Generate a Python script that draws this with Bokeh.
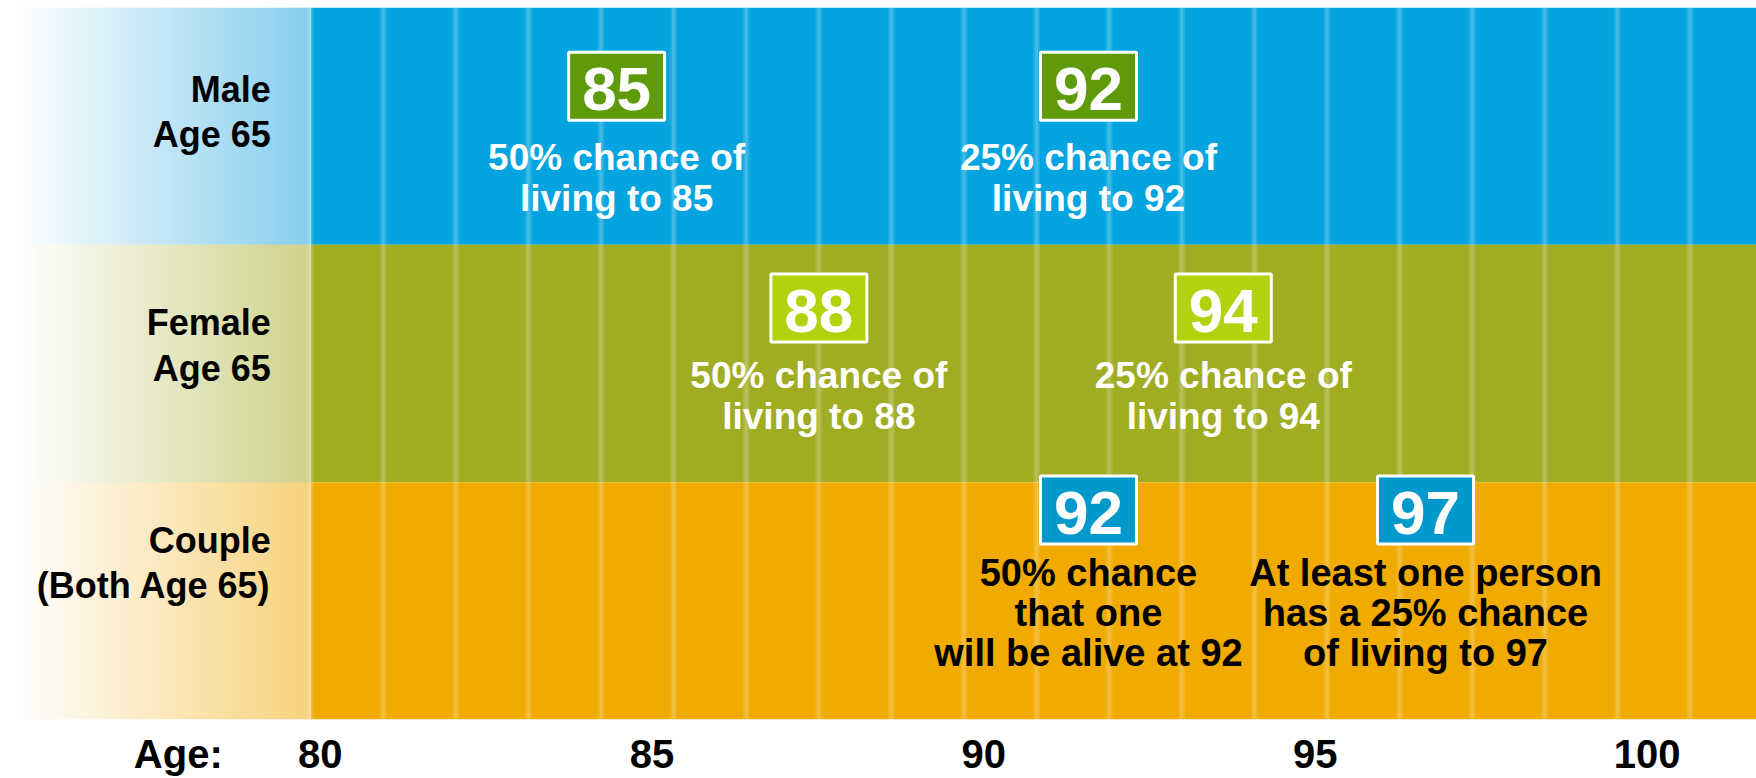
import numpy as np
from bokeh.plotting import figure
from bokeh.models import Range1d, LinearAxis, FixedTicker, ColumnDataSource
from bokeh.core.properties import value
from bokeh.embed import file_html
from bokeh.resources import INLINE

# ---------------- data ----------------
rows = ["Male\nAge 65", "Female\nAge 65", "Couple\n(Both Age 65)"]
age_50 = [85, 88, 92]
age_25 = [92, 94, 97]
caption_50 = ["50% chance of\nliving to 85",
              "50% chance of\nliving to 88",
              "50% chance\nthat one\nwill be alive at 92"]
caption_25 = ["25% chance of\nliving to 92",
              "25% chance of\nliving to 94",
              "At least one person\nhas a 25% chance\nof living to 97"]
tick_ages = [80, 85, 90, 95, 100]
axis_title = "Age:"

# ---------------- style / layout ----------------
band_colors = ["#03A4E0", "#A0AC22", "#F0AA00"]
fade_colors = [(135, 206, 238), (207, 211, 140), (248, 210, 125)]
box_colors = ["#5E9A0A", "#B4D10E", "#0099CC"]
X0, X1 = 75.86, 101.91          # plot x-range (age)
BAND_START = 80.46               # where solid bands begin
LABEL_X = 79.87                  # right edge of row labels
AX0, AX1 = 75.18, 101.65         # axis label range
AXIS_TITLE_POS = 77.86
STRIPE_STEP = 1.077
label_dy = [0.058, 0.076, 0.158]
box_dy = [0.168, 0.234, 0.383]
cap_dy = [-0.217, -0.139, -0.052]

n = len(rows)
yc = [n - 0.5 - i for i in range(n)]

p = figure(width=1756, height=778, x_range=Range1d(X0, X1), y_range=Range1d(0, n),
           output_backend="svg", toolbar_location=None,
           x_axis_location=None, y_axis_location=None,
           min_border_left=0, min_border_right=0, min_border_top=7, min_border_bottom=53)
p.extra_x_ranges = {"axis": Range1d(AX0, AX1)}
p.grid.visible = False
p.outline_line_color = None
p.background_fill_color = "white"
p.border_fill_color = "white"

# solid bands
p.quad(left=BAND_START, right=X1, bottom=[yc[i] - 0.5 for i in range(n)],
       top=[yc[i] + 0.5 for i in range(n)], fill_color=band_colors, line_color=None)

# left faded panel (gradient) as an RGBA image
W, H = 160, 60
t = np.linspace(0, 1, W)
ramp = np.clip((t - 0.05) / 0.95, 0, 1)
img = np.empty((H * n, W), dtype=np.uint32)
view = img.view(dtype=np.uint8).reshape((H * n, W, 4))
for i in range(n):
    r0 = (n - 1 - i) * H
    c = fade_colors[i]
    for k in range(3):
        view[r0:r0 + H, :, k] = (255 - ramp * (255 - c[k])).astype(np.uint8)[None, :]
    view[r0:r0 + H, :, 3] = 255
p.image_rgba(image=[img], x=X0, y=0, dw=BAND_START - X0, dh=n)

# decorative light stripes
xs = BAND_START + STRIPE_STEP * np.arange(0, int((X1 - BAND_START) / STRIPE_STEP) + 1)
p.segment(x0=xs, y0=0, x1=xs, y1=n, line_color="white", line_alpha=0.12, line_width=7)
p.segment(x0=xs, y0=0, x1=xs, y1=n, line_color="white", line_alpha=0.14, line_width=3)

# row labels
p.text(x=[LABEL_X] * n, y=[yc[i] + label_dy[i] for i in range(n)], text=rows,
       text_align="right", text_baseline="middle", text_font=value("Liberation Sans"),
       text_font_style="bold", text_font_size="36px", text_line_height=1.1,
       text_color="black")

# number boxes
bx = age_50 + age_25
by = [yc[i] + box_dy[i] for i in range(n)] * 2
bc = box_colors * 2
src = ColumnDataSource(dict(x=bx, y=by, c=bc, t=[str(a) for a in bx]))
p.rect(x="x", y="y", width=96, height=68, width_units="screen", height_units="screen",
       fill_color="c", line_color="white", line_width=3, source=src)
p.text(x="x", y="y", text="t", text_align="center", text_baseline="middle",
       text_font=value("Liberation Sans"), text_font_style="bold", text_font_size="62px",
       text_color="white", y_offset=3, source=src)

# captions (white, rows 0-1)
cx, cy, ct = [], [], []
for i in range(2):
    for a, txt in ((age_50[i], caption_50[i]), (age_25[i], caption_25[i])):
        cx.append(a); cy.append(yc[i] + cap_dy[i]); ct.append(txt)
p.text(x=cx, y=cy, text=ct, text_align="center", text_baseline="middle",
       text_font=value("Liberation Sans"), text_font_style="bold", text_font_size="37px",
       text_line_height=1.0, text_color="white")

# captions (black, couple row)
i = 2
p.text(x=[age_50[i], age_25[i]], y=[yc[i] + cap_dy[i]] * 2,
       text=[caption_50[i], caption_25[i]], text_align="center", text_baseline="middle",
       text_font=value("Liberation Sans"), text_font_style="bold",
       text_font_size="38px", text_line_height=0.95, text_color="black")

# axis
ax = LinearAxis(x_range_name="axis", ticker=FixedTicker(ticks=[AXIS_TITLE_POS] + tick_ages),
                major_label_overrides={AXIS_TITLE_POS: axis_title})
ax.axis_line_color = None
ax.major_tick_line_color = None
ax.minor_tick_line_color = None
ax.major_label_text_font = "Liberation Sans"
ax.major_label_text_font_style = "bold"
ax.major_label_text_font_size = "40px"
ax.major_label_text_color = "black"
ax.major_label_standoff = 6
p.add_layout(ax, "below")

open("out.html", "w").write(file_html(p, INLINE))
